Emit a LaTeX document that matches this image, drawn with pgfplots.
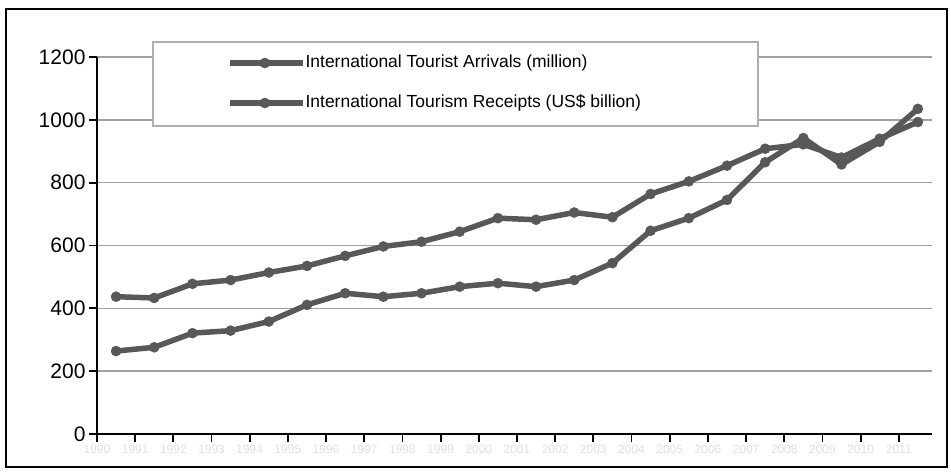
\documentclass[border=0pt]{standalone}
\usepackage{pgfplots}
\pgfplotsset{compat=1.18}
\usepackage{fontspec}
\setmainfont{Liberation Sans}

\definecolor{serie}{RGB}{88,88,88}
\definecolor{gridc}{RGB}{160,160,160}
\definecolor{boxc}{RGB}{175,175,175}

\begin{document}
\begin{tikzpicture}[x=1pt,y=1pt]
% page and outer frame
\path[fill=white] (0,0) rectangle (951,472);
\draw[line width=1.2pt,black] (6,5) rectangle (947,463);

\begin{axis}[
  at={(97pt,38pt)}, anchor=south west,
  scale only axis, width=835pt, height=377pt,
  xmin=-0.5, xmax=21.37, ymin=0, ymax=1200,
  clip=false,
  axis x line=bottom, axis y line=left,
  axis line style={-, line width=1.8pt, black},
  tick align=outside, major tick length=8pt,
  tick style={line width=1.8pt, black},
  ytick={0,200,...,1200},
  xtick={-0.5,0.5,...,20.5},
  xticklabels={1990,1991,1992,1993,1994,1995,1996,1997,1998,1999,2000,2001,2002,2003,2004,2005,2006,2007,2008,2009,2010,2011},
  xticklabel style={font=\fontsize{12}{12}\selectfont, text=black!12},
  yticklabel style={font=\fontsize{21}{21}\selectfont},
  /pgf/number format/assume math mode=true,
  /pgf/number format/1000 sep={},
  ymajorgrids,
  major grid style={line width=1.5pt, gridc},
  legend cell align=left,
  legend image code/.code={\draw[#1, mark repeat=2, mark phase=2] plot coordinates {(0pt,0pt) (35pt,0pt) (73pt,0pt)};},
  legend style={draw=none, fill=none, at={(0.1555,0.931)}, anchor=west,
    inner sep=0pt, row sep=24pt,
    nodes={inner sep=0pt, text height=12.5pt, text depth=3.5pt},
    font=\fontsize{17.5}{17.5}\selectfont},
]
% legend frame
\draw[line width=1.2pt, boxc, fill=white] (rel axis cs:0.067,1.04) rectangle (rel axis cs:0.7916,0.817);

\addplot[serie, line width=5.5pt, mark=*, mark size=5pt, mark options={fill=serie, draw=serie, line width=0.5pt}]
  coordinates {
  (0,437) (1,433) (2,478) (3,490) (4,514) (5,535) (6,567) (7,597) (8,612) (9,644) (10,687)
  (11,682) (12,705) (13,690) (14,764) (15,804) (16,854) (17,908) (18,922) (19,880) (20,940) (21,993)};
\addlegendentry{International Tourist Arrivals (million)}

\addplot[serie, line width=5.5pt, mark=*, mark size=5pt, mark options={fill=serie, draw=serie, line width=0.5pt}]
  coordinates {
  (0,264) (1,276) (2,321) (3,329) (4,358) (5,411) (6,448) (7,437) (8,448) (9,469) (10,480)
  (11,469) (12,490) (13,544) (14,647) (15,687) (16,745) (17,865) (18,942) (19,858) (20,930) (21,1035)};
\addlegendentry{International Tourism Receipts (US\$ billion)}
\end{axis}
\end{tikzpicture}
\end{document}
